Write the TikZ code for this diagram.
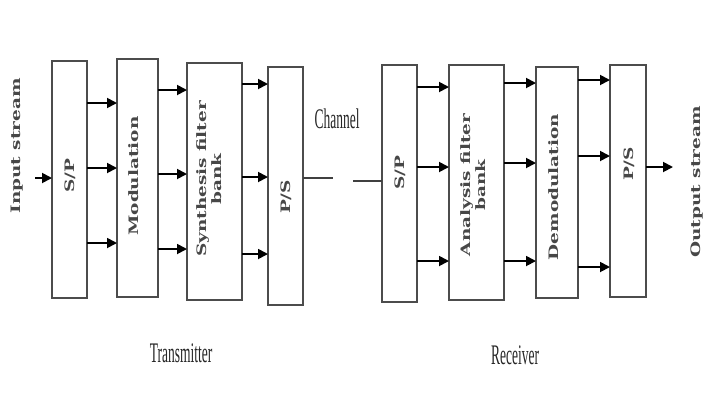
\documentclass[tikz,border=0pt]{standalone}
\usepackage{fontspec}
\usepackage{graphicx}
\setmainfont{Liberation Serif}
\newfontfamily\boxfont{DejaVu Serif}
\usetikzlibrary{arrows.meta}
\newcommand{\rtxt}[1]{\scalebox{1.42}[1]{#1}}
\newcommand{\htxt}[1]{\scalebox{1}[2.1]{#1}}
\tikzset{
  blockbox/.style={draw=black!70, line width=1.3bp, inner sep=0pt, outer sep=0pt},
  rlabel/.style={rotate=90, inner sep=0pt, font=\boxfont\bfseries\fontsize{13bp}{14bp}\selectfont, text=black!72},
  hlabel/.style={inner sep=0pt, font=\fontsize{13.5bp}{15bp}\selectfont, text=black!85},
  sig/.style={draw=black, line width=1.8bp, -{Triangle[length=10bp,width=10bp]}},
  chan/.style={draw=black!75, line width=1.4bp}
}
\begin{document}
\begin{tikzpicture}[x=1bp,y=-1bp]
\useasboundingbox (0,0) rectangle (704,401);
% transmitter boxes
\node[blockbox, minimum width=35bp, minimum height=237bp] (sp1) at (69.5,179.5) {};
\node[blockbox, minimum width=41bp, minimum height=238bp] (mod) at (137.5,178) {};
\node[blockbox, minimum width=55bp, minimum height=237bp] (syn) at (214.5,181.5) {};
\node[blockbox, minimum width=35bp, minimum height=238bp] (ps1) at (285.5,186) {};
% receiver boxes
\node[blockbox, minimum width=35bp, minimum height=237bp] (sp2) at (399.5,183.5) {};
\node[blockbox, minimum width=55bp, minimum height=235bp] (ana) at (476.5,182.5) {};
\node[blockbox, minimum width=42bp, minimum height=231bp] (dem) at (557,182.5) {};
\node[blockbox, minimum width=36bp, minimum height=232bp] (ps2) at (628,181) {};
% labels in boxes
\node[rlabel] (tsp1) at (70,175.5) {\rtxt{S/P}};
\node[rlabel] (tmod) at (134,176) {\rtxt{Modulation}};
\node[rlabel] (tsyn) at (211,179) {\rtxt{\begin{tabular}{@{}c@{}}Synthesis filter\\[0.5bp]bank\end{tabular}}};
\node[rlabel] (tps1) at (286,197) {\rtxt{P/S}};
\node[rlabel] (tsp2) at (400,173) {\rtxt{S/P}};
\node[rlabel] (tana) at (475,185) {\rtxt{\begin{tabular}{@{}c@{}}Analysis filter\\[0.5bp]bank\end{tabular}}};
\node[rlabel] (tdem) at (554,187) {\rtxt{Demodulation}};
\node[rlabel] (tps2) at (629,164) {\rtxt{P/S}};
% outer labels
\node[rlabel] (instream) at (17,146) {\rtxt{Input stream}};
\node[rlabel] (outstream) at (697,182) {\rtxt{Output stream}};
\node[hlabel] (chlabel) at (337,118.5) {\htxt{Channel}};
\node[hlabel] (txlabel) at (181,353) {\htxt{Transmitter}};
\node[hlabel] (rxlabel) at (515,355) {\htxt{Receiver}};
% free ends
\coordinate (in0) at (35,178);
\coordinate (out0) at (673,167);
\coordinate (ch1) at (333,178);
\coordinate (ch2) at (353,181);
% input / output
\draw[sig] (in0) -- (sp1.west |- in0);
\draw[sig] (ps2.east |- out0) -- (out0);
% channel
\draw[chan] (ps1.east |- ch1) -- (ch1);
\draw[chan] (ch2) -- (sp2.west |- ch2);
% transmitter arrows
\foreach \yy in {103,168,243} \draw[sig] (sp1.east |- 0,\yy) -- (mod.west |- 0,\yy);
\foreach \yy in {90,174,249} \draw[sig] (mod.east |- 0,\yy) -- (syn.west |- 0,\yy);
\foreach \yy in {84,177,254} \draw[sig] (syn.east |- 0,\yy) -- (ps1.west |- 0,\yy);
% receiver arrows
\foreach \yy in {87,167,261} \draw[sig] (sp2.east |- 0,\yy) -- (ana.west |- 0,\yy);
\foreach \yy in {83,163,261} \draw[sig] (ana.east |- 0,\yy) -- (dem.west |- 0,\yy);
\foreach \yy in {80,156,267} \draw[sig] (dem.east |- 0,\yy) -- (ps2.west |- 0,\yy);
\end{tikzpicture}
\end{document}
